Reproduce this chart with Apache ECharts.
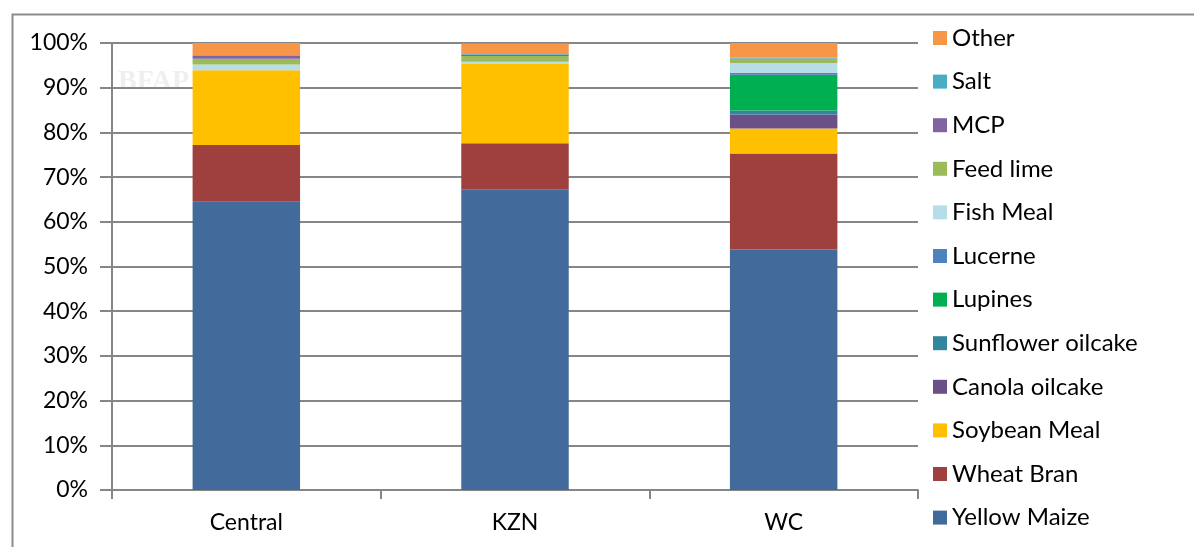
<!DOCTYPE html>
<html>
<head>
<meta charset="utf-8">
<script src="https://cdn.jsdelivr.net/npm/echarts@6/dist/echarts.min.js"></script>
<style>
  html, body { margin: 0; padding: 0; background: #fff; }
  #myChart { width: 1194px; height: 547px; }
</style>
</head>
<body>
<div id="myChart"></div>
<script>
  // regions on the x axis
  const regions = ['Central', 'KZN', 'WC'];

  // share of each ingredient in the feed mix (%)
  const yellowMaize   = [64.5, 67.3, 53.8];
  const wheatBran     = [12.7, 10.3, 21.5];
  const soybeanMeal   = [16.7, 17.7, 5.6];
  const canolaOilcake = [0, 0, 3.1];
  const sunflowerOilcake = [0, 0, 0.9];
  const lupines       = [0, 0, 8.0];
  const lucerne       = [0, 0, 0.45];
  const fishMeal      = [1.3, 0.5, 2.2];
  const feedLime      = [1.3, 1.3, 0.9];
  const mcp           = [0.7, 0.3, 0.1];
  const salt          = [0.1, 0.3, 0.2];
  const other         = [2.8, 2.2, 3.3];

  const yTicks = [0, 10, 20, 30, 40, 50, 60, 70, 80, 90, 100];

  const seriesDefs = [
    ['Yellow Maize', yellowMaize, '#426A9B'],
    ['Wheat Bran', wheatBran, '#9E413E'],
    ['Soybean Meal', soybeanMeal, '#FFC000'],
    ['Canola oilcake', canolaOilcake, '#6A5087'],
    ['Sunflower oilcake', sunflowerOilcake, '#31859C'],
    ['Lupines', lupines, '#00B050'],
    ['Lucerne', lucerne, '#4F81BD'],
    ['Fish Meal', fishMeal, '#B7DEE8'],
    ['Feed lime', feedLime, '#9BBB59'],
    ['MCP', mcp, '#8064A2'],
    ['Salt', salt, '#4BACC6'],
    ['Other', other, '#F79646']
  ];

  let myChart = echarts.init(document.getElementById('myChart'));
  const font = 'Lato, "Open Sans", sans-serif';

  myChart.setOption({
    animation: false,
    textStyle: { fontFamily: font },
    graphic: [
      {
        type: 'rect',
        left: 10, top: 12,
        shape: { width: 1250, height: 600 },
        style: { fill: 'none', stroke: '#8c8c8c', lineWidth: 2 }
      },
      // faint logo watermark behind the first bar
      {
        type: 'text',
        left: 118, top: 68,
        z: -1,
        style: { text: 'BFAP', fill: 'rgba(150,150,150,0.15)', font: 'bold 28px serif' }
      }
    ],
    legend: {
      orient: 'vertical',
      left: 928,
      top: 21,
      itemWidth: 14,
      itemHeight: 14,
      itemGap: 19.6,
      icon: 'rect',
      data: seriesDefs.map(s => s[0]).reverse(),
      textStyle: { fontSize: 24, color: '#000', fontFamily: font, lineHeight: 24, padding: [0, 0, 0, 0] }
    },
    grid: { left: 112, right: 276, top: 43, bottom: 57, containLabel: false },
    xAxis: {
      type: 'category',
      data: regions,
      axisLine: { lineStyle: { color: '#868686', width: 2 } },
      axisTick: { show: true, length: 9, lineStyle: { color: '#868686', width: 2 } },
      axisLabel: { fontSize: 23, color: '#000', margin: 21, fontFamily: font },
      splitLine: { show: false }
    },
    yAxis: {
      type: 'value',
      min: yTicks[0],
      max: yTicks[yTicks.length - 1],
      interval: 10,
      axisLine: { show: true, lineStyle: { color: '#868686', width: 2 } },
      axisTick: { show: true, length: 12, lineStyle: { color: '#868686', width: 2 } },
      axisLabel: { fontSize: 23, color: '#000', margin: 24, formatter: '{value}%', fontFamily: font },
      splitLine: { show: true, lineStyle: { color: '#868686', width: 2 } }
    },
    series: seriesDefs.map(([name, values, color]) => ({
      name: name,
      type: 'bar',
      stack: 'total',
      barWidth: '40%',
      data: values,
      itemStyle: { color: color }
    }))
  });
</script>
</body>
</html>
